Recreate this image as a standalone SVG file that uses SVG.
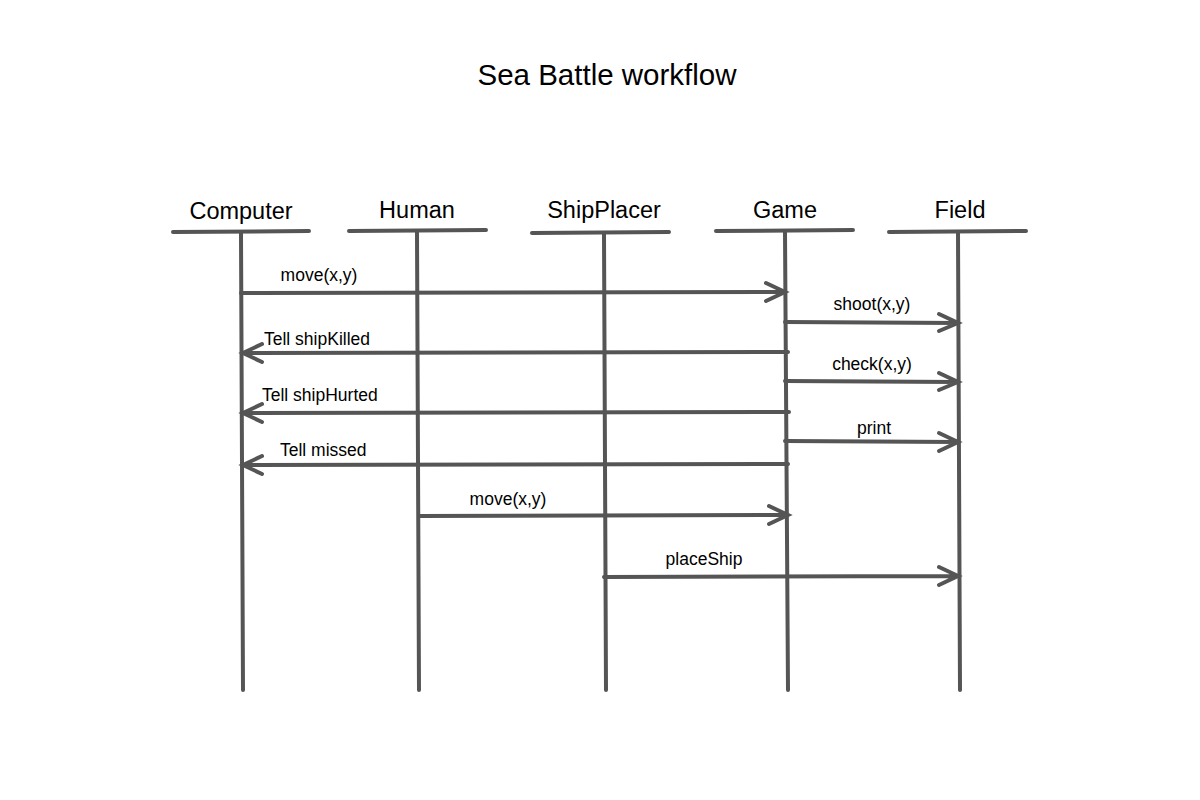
<svg xmlns="http://www.w3.org/2000/svg" width="1200" height="800" viewBox="0 0 1200 800">
<style>
.ln{stroke:#555;stroke-width:4;stroke-linecap:round;fill:none}
.hd{font-family:"Liberation Sans",Arial,sans-serif;font-size:23.5px;fill:#000;text-anchor:middle}
.lb{font-family:"Liberation Sans",Arial,sans-serif;font-size:17.5px;fill:#000}
.ttl{font-family:"Liberation Sans",Arial,sans-serif;font-size:29.5px;fill:#000;text-anchor:middle}
</style>
<rect width="1200" height="800" fill="#fff"/>
<text class="ttl" x="607" y="85">Sea Battle workflow</text>
<g id="computer">
<text class="hd" x="241" y="219">Computer</text>
<line class="ln" x1="173" y1="232" x2="309" y2="231"/>
<line class="ln" x1="241" y1="233" x2="243" y2="690"/>
</g>
<g id="human">
<text class="hd" x="417" y="218">Human</text>
<line class="ln" x1="349" y1="231" x2="486" y2="230"/>
<line class="ln" x1="417" y1="232" x2="419" y2="690"/>
</g>
<g id="shipplacer">
<text class="hd" x="604" y="218">ShipPlacer</text>
<line class="ln" x1="532" y1="233" x2="669" y2="232"/>
<line class="ln" x1="604" y1="234" x2="606" y2="690"/>
</g>
<g id="game">
<text class="hd" x="785" y="218">Game</text>
<line class="ln" x1="716" y1="231" x2="853" y2="230"/>
<line class="ln" x1="785" y1="232" x2="788" y2="690"/>
</g>
<g id="field">
<text class="hd" x="960" y="218">Field</text>
<line class="ln" x1="889" y1="232" x2="1026" y2="231"/>
<line class="ln" x1="958" y1="232" x2="960" y2="690"/>
</g>
<g id="connectors">
<path class="ln" d="M241,293 L785,292 M766,283 L785,292 L766,301"/>
<text class="lb" x="319" y="281" text-anchor="middle">move(x,y)</text>
<path class="ln" d="M785,322 L958,323 M939,314 L958,323 L939,331"/>
<text class="lb" x="872" y="310" text-anchor="middle">shoot(x,y)</text>
<path class="ln" d="M788,352 L243,353 M262,344 L243,353 L262,362"/>
<text class="lb" x="264" y="345">Tell shipKilled</text>
<path class="ln" d="M785,381 L958,382 M939,373 L958,382 L939,390"/>
<text class="lb" x="872" y="370" text-anchor="middle">check(x,y)</text>
<path class="ln" d="M789,412 L243,413 M262,404 L243,413 L262,422"/>
<text class="lb" x="262" y="401">Tell shipHurted</text>
<path class="ln" d="M785,441 L958,442 M939,433 L958,442 L939,451"/>
<text class="lb" x="874" y="434" text-anchor="middle">print</text>
<path class="ln" d="M788,464 L243,465 M262,456 L243,465 L262,474"/>
<text class="lb" x="280" y="456">Tell missed</text>
<path class="ln" d="M419,516 L788,515 M769,506 L788,515 L769,524"/>
<text class="lb" x="508" y="505" text-anchor="middle">move(x,y)</text>
<path class="ln" d="M604,577 L958,576 M939,567 L958,576 L939,585"/>
<text class="lb" x="704" y="565" text-anchor="middle">placeShip</text>
</g>
</svg>
